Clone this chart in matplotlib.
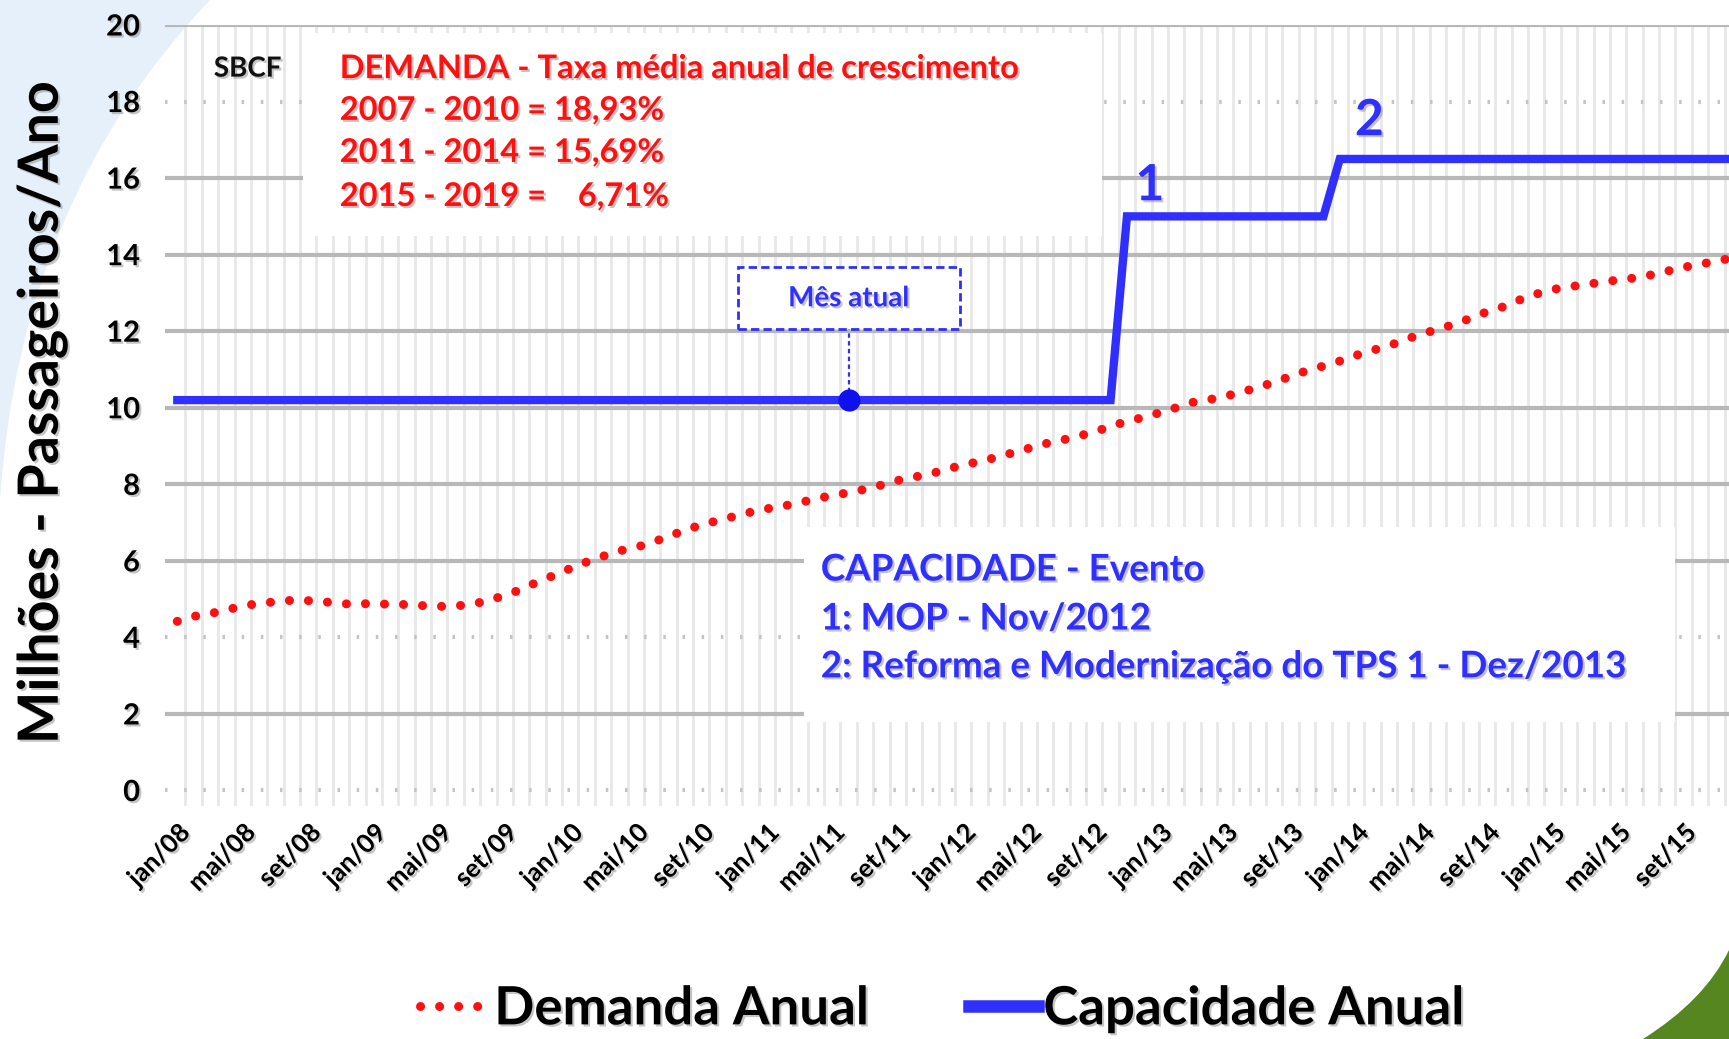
import matplotlib

matplotlib.use("Agg")
import matplotlib.pyplot as plt
import matplotlib.patheffects as pe
from matplotlib.lines import Line2D
from matplotlib.patches import PathPatch, Rectangle
from matplotlib.path import Path

plt.rcParams["font.family"] = ["Lato", "DejaVu Sans"]
plt.rcParams["font.weight"] = "bold"

# monthly demand (millions of passengers / year), jan/08 onwards
demand = [
    4.42, 4.55, 4.62, 4.72, 4.82, 4.89, 4.93, 4.97, 4.96, 4.93, 4.88, 4.87,
    4.89, 4.86, 4.86, 4.83, 4.81, 4.82, 4.87, 4.96, 5.10, 5.25, 5.45, 5.62,
    5.80, 5.97, 6.12, 6.26, 6.35, 6.48, 6.64, 6.80, 6.94, 7.05, 7.16, 7.27,
    7.36, 7.43, 7.52, 7.62, 7.71, 7.78, 7.87, 7.98, 8.10, 8.19, 8.27, 8.40,
    8.50, 8.60, 8.70, 8.82, 8.94, 9.06, 9.15, 9.26, 9.36, 9.52, 9.64, 9.75,
    9.87, 10.00, 10.14, 10.21, 10.30, 10.41, 10.53, 10.67, 10.82, 10.97, 11.09, 11.22,
    11.37, 11.50, 11.62, 11.78, 11.93, 12.05, 12.18, 12.34, 12.51, 12.64, 12.82, 12.97,
    13.09, 13.16, 13.22, 13.28, 13.34, 13.39, 13.47, 13.57, 13.67, 13.75, 13.83, 13.92,
]
months = list(range(len(demand)))

# capacity steps: value and first month index where it applies
capacity_levels = [10.2, 15.0, 16.5]
capacity_start = [0, 58, 71]  # jan/08, nov/12, dez/13
capacity = []
for m in months:
    level = capacity_levels[0]
    for start, val in zip(capacity_start, capacity_levels):
        if m >= start:
            level = val
    capacity.append(level)

current_month = 41  # jun/11

tick_labels = [
    "jan/08", "mai/08", "set/08", "jan/09", "mai/09", "set/09",
    "jan/10", "mai/10", "set/10", "jan/11", "mai/11", "set/11",
    "jan/12", "mai/12", "set/12", "jan/13", "mai/13", "set/13",
    "jan/14", "mai/14", "set/14", "jan/15", "mai/15", "set/15",
]
tick_pos = [4 * i for i in range(len(tick_labels))]

demanda_lines = [
    "DEMANDA - Taxa média anual de crescimento",
    "2007 - 2010 = 18,93%",
    "2011 - 2014 = 15,69%",
    "2015 - 2019 =    6,71%",
]
capacidade_lines = [
    "CAPACIDADE - Evento",
    "1: MOP - Nov/2012",
    "2: Reforma e Modernização do TPS 1 - Dez/2013",
]

RED = "#ff1010"
BLUE = "#2f2fff"
shadow = [pe.SimplePatchShadow(offset=(1.5, -1.5), shadow_rgbFace="0.55", alpha=0.5), pe.Normal()]

fig = plt.figure(figsize=(17.29, 10.39), dpi=100)
fig.patch.set_facecolor("white")

# decorative background shapes
W, H = 1729, 1039
blue_bg = Path(
    [(0, 1), (210 / W, 1), (20 / W, 1 - 200 / H), (0, 1 - 500 / H), (0, 1)],
    [Path.MOVETO, Path.LINETO, Path.CURVE3, Path.CURVE3, Path.CLOSEPOLY],
)
fig.add_artist(PathPatch(blue_bg, transform=fig.transFigure, fc="#e6f0fa", ec="none", zorder=0))
green_bg = Path(
    [(1643 / W, 0), (1705 / W, 1 - 1000 / H), (1, 1 - 950 / H), (1, 0), (1643 / W, 0)],
    [Path.MOVETO, Path.CURVE3, Path.CURVE3, Path.LINETO, Path.CLOSEPOLY],
)
fig.add_artist(PathPatch(green_bg, transform=fig.transFigure, fc="#55861f", ec="none", zorder=0))

ax = fig.add_axes([165 / W, 1 - 805.8 / H, 1 - 165 / W, (805.8 - 25) / H])
ax.set_facecolor("none")
ax.set_xlim(-0.75, 94.77)
ax.set_ylim(-0.4, 20)

# grid
ax.vlines([m + 0.5 for m in months], -0.4, 20, color="#e8e8e8", lw=2, zorder=1)
ax.hlines([2, 6, 8, 10, 12, 14, 16, 20], -0.75, 96, color="#b8b8b8", lw=3, zorder=1)
ax.hlines([0, 4, 18], -0.75, 96, color="#c4c4c4", lw=3, linestyles=(0, (0.6, 4)), zorder=1)

# white text boxes hiding the grid
ax.add_patch(Rectangle((7.66, 14.48), 48.8, 5.3, fc="white", ec="none", zorder=2))
ax.add_patch(Rectangle((38.3, 1.8), 53.2, 5.08, fc="white", ec="none", zorder=2))

ax.plot(months, capacity, color=BLUE, lw=6, solid_joinstyle="miter", zorder=4)
ax.plot(months, demand, color=RED, lw=6.5, linestyle=(0, (0.01, 2.1)),
        dash_capstyle="round", zorder=5)

# "Mês atual" callout
cur_val = capacity[current_month]
ax.plot([current_month, current_month], [cur_val, 12.05], color=BLUE, lw=1.6,
        ls=(0, (2, 1.5)), zorder=3)
ax.plot(current_month, cur_val, "o", color="#1010ee", ms=15, zorder=6)
ax.add_patch(Rectangle((34.23, 12.05), 13.56, 1.64, fc="white", ec=BLUE, lw=2,
                       ls=(0, (3, 1.5)), zorder=6))
ax.text(current_month, 12.86, "Mês atual", color=BLUE, fontsize=20, ha="center",
        va="center", zorder=7, path_effects=shadow)

ax.text(59.4, 15.8, "1", color=BLUE, fontsize=36, ha="center", va="center",
        zorder=7, path_effects=shadow)
ax.text(72.8, 17.5, "2", color=BLUE, fontsize=36, ha="center", va="center",
        zorder=7, path_effects=shadow)

ax.text(4.3, 18.86, "SBCF", color="#111111", fontsize=20, ha="center", va="center",
        zorder=7, path_effects=shadow)
for line, y in zip(demanda_lines, [18.86, 17.77, 16.67, 15.52]):
    ax.text(9.92, y, line, color=RED, fontsize=23.5, ha="left", va="center",
            zorder=7, path_effects=shadow)
for line, y in zip(capacidade_lines, [5.76, 4.48, 3.23]):
    ax.text(39.3, y, line, color=BLUE, fontsize=26.5, ha="left", va="center",
            zorder=7, path_effects=shadow)

# axes
for s in ax.spines.values():
    s.set_visible(False)
ax.set_yticks(range(0, 21, 2))
ax.set_yticklabels([str(v) for v in range(0, 21, 2)], fontsize=21, fontweight="bold")
ax.set_xticks(tick_pos)
ax.set_xticklabels(tick_labels, fontsize=18.5, fontweight="bold", rotation=45,
                   ha="right", va="top", rotation_mode="anchor")
ax.tick_params(axis="both", length=0)
ax.tick_params(axis="y", pad=18)
ax.tick_params(axis="x", pad=10)
for lbl in ax.get_xticklabels() + ax.get_yticklabels():
    lbl.set_path_effects(shadow)

fig.text(42 / W, 1 - 413 / H, "Milhões - Passageiros/Ano", rotation=90, fontsize=40,
         fontweight="bold", ha="center", va="center", path_effects=shadow)

handles = [
    Line2D([], [], color=RED, lw=6.5, linestyle=(0, (0.01, 2.1)), dash_capstyle="round"),
    Line2D([], [], color=BLUE, lw=9),
]
leg = fig.legend(handles, ["Demanda Anual", "Capacidade Anual"], loc="center",
                 bbox_to_anchor=(0.545, 0.029), ncol=2, frameon=False,
                 prop={"size": 38, "weight": "bold"}, handlelength=1.3,
                 handletextpad=0.1, columnspacing=1.9)
for t in leg.get_texts():
    t.set_path_effects(shadow)

fig.savefig("out.png", dpi=100)
